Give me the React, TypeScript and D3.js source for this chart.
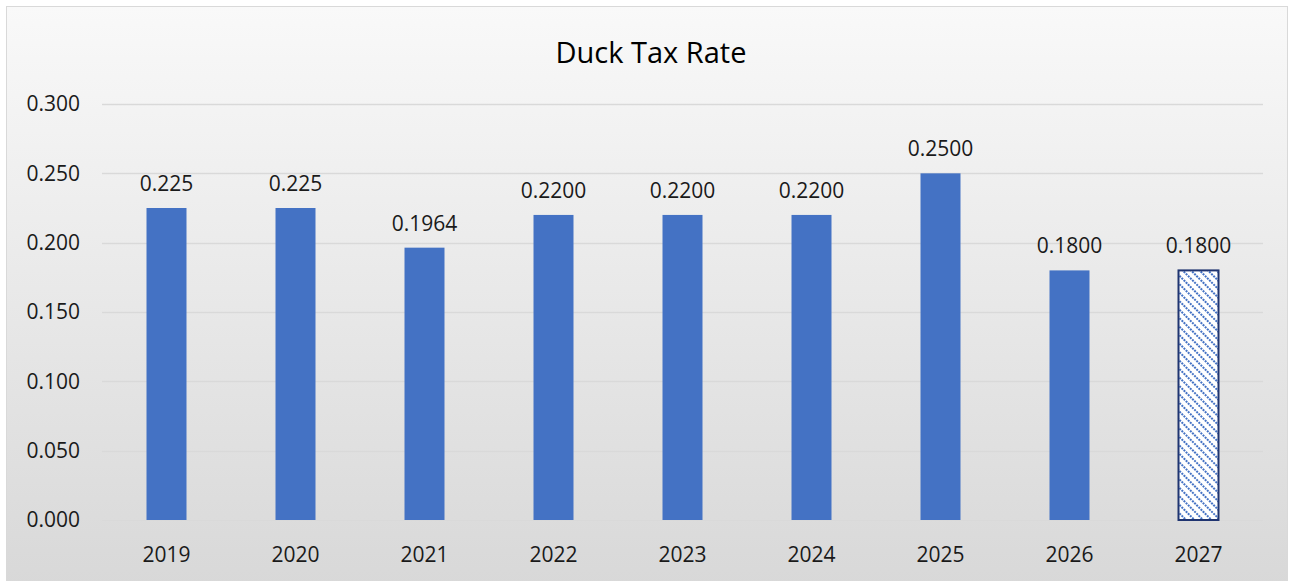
import React, { useEffect, useRef } from 'react';
import * as d3 from 'd3';

const years = ['2019', '2020', '2021', '2022', '2023', '2024', '2025', '2026', '2027'];
const rates = [0.225, 0.225, 0.1964, 0.22, 0.22, 0.22, 0.25, 0.18, 0.18];
const rateLabels = ['0.225', '0.225', '0.1964', '0.2200', '0.2200', '0.2200', '0.2500', '0.1800', '0.1800'];
const projected = ['2027'];
const yTicks = [0, 0.05, 0.1, 0.15, 0.2, 0.25, 0.3];

export default function App() {
  const svgRef = useRef<SVGSVGElement | null>(null);

  useEffect(() => {
    document.body.style.margin = '0';
    const width = 1294;
    const height = 581;
    const font = '"Open Sans", sans-serif';

    const svg = d3.select(svgRef.current).attr('width', width).attr('height', height);
    svg.selectAll('*').remove();

    const defs = svg.append('defs');
    const grad = defs.append('linearGradient')
      .attr('id', 'bg').attr('x1', 0).attr('y1', 0).attr('x2', 0).attr('y2', 1);
    grad.append('stop').attr('offset', '0%').attr('stop-color', '#f9f9f9');
    grad.append('stop').attr('offset', '100%').attr('stop-color', '#d8d8d8');

    // hatch for the projected year, lines running top-left to bottom-right
    const pat = defs.append('pattern')
      .attr('id', 'hatch')
      .attr('patternUnits', 'userSpaceOnUse')
      .attr('width', 6).attr('height', 6)
      .attr('patternTransform', 'rotate(45)');
    pat.append('rect').attr('width', 6).attr('height', 6).attr('fill', '#ffffff');
    pat.append('line')
      .attr('x1', 0).attr('y1', 3).attr('x2', 6).attr('y2', 3)
      .attr('stroke', '#4472c4').attr('stroke-width', 2.2)
      .attr('stroke-dasharray', '2 1');

    // chart area
    svg.append('rect')
      .attr('x', 6.5).attr('y', 6.5)
      .attr('width', 1281).attr('height', 580)
      .attr('fill', 'url(#bg)')
      .attr('stroke', '#d9d9d9').attr('stroke-width', 1);

    svg.append('text')
      .attr('x', 651).attr('y', 63)
      .attr('text-anchor', 'middle')
      .style('font-family', font).style('font-size', '29px').style('fill', '#000')
      .text('Duck Tax Rate');

    const x = d3.scaleBand().domain(years).range([102, 1263]).paddingInner(0.69).paddingOuter(0.345);
    const y = d3.scaleLinear().domain([0, 0.3]).range([520, 104]);

    const g = svg.append('g');

    g.selectAll('line.grid')
      .data(yTicks)
      .enter()
      .append('line')
      .attr('class', 'grid')
      .attr('x1', 102).attr('x2', 1263)
      .attr('y1', d => Math.round(y(d)) + 0.5).attr('y2', d => Math.round(y(d)) + 0.5)
      .attr('stroke', '#d9d9d9').attr('stroke-width', 1.3);

    g.selectAll('text.ytick')
      .data(yTicks)
      .enter()
      .append('text')
      .attr('class', 'ytick')
      .attr('x', 80).attr('y', d => y(d))
      .attr('dy', '0.35em')
      .attr('text-anchor', 'end')
      .style('font-family', font).style('font-size', '21px').style('fill', '#1a1a1a')
      .text(d => d3.format('.3f')(d));

    const data = years.map((yr, i) => ({ yr, v: rates[i], label: rateLabels[i] }));

    g.selectAll('rect.bar')
      .data(data)
      .enter()
      .append('rect')
      .attr('class', 'bar')
      .attr('x', d => x(d.yr)!)
      .attr('y', d => y(d.v))
      .attr('width', x.bandwidth())
      .attr('height', d => y(0) - y(d.v))
      .attr('fill', d => (projected.includes(d.yr) ? 'url(#hatch)' : '#4472c4'))
      .attr('stroke', d => (projected.includes(d.yr) ? '#1f3470' : 'none'))
      .attr('stroke-width', 2);

    g.selectAll('text.val')
      .data(data)
      .enter()
      .append('text')
      .attr('class', 'val')
      .attr('x', d => x(d.yr)! + x.bandwidth() / 2)
      .attr('y', d => y(d.v) - 17)
      .attr('text-anchor', 'middle')
      .style('font-family', font).style('font-size', '21px').style('fill', '#1a1a1a')
      .text(d => d.label);

    g.selectAll('text.xtick')
      .data(years)
      .enter()
      .append('text')
      .attr('class', 'xtick')
      .attr('x', d => x(d)! + x.bandwidth() / 2)
      .attr('y', 562)
      .attr('text-anchor', 'middle')
      .style('font-family', font).style('font-size', '21px').style('fill', '#1a1a1a')
      .text(d => d);
  }, []);

  return <svg ref={svgRef} style={{ display: 'block' }} />;
}
